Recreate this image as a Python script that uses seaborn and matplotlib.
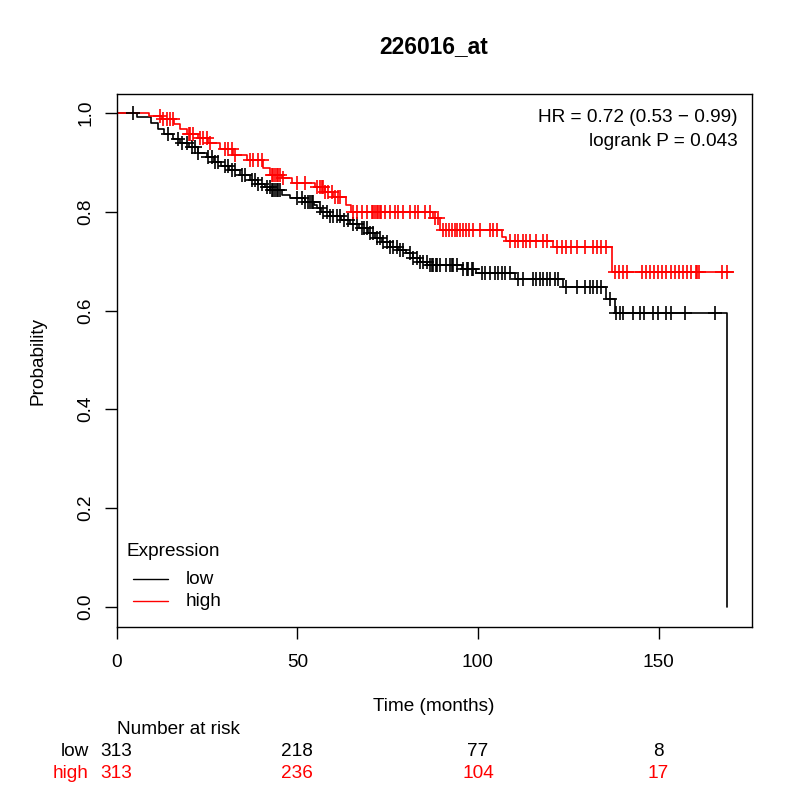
import numpy as np
import pandas as pd
import matplotlib
matplotlib.use("Agg")
import matplotlib.pyplot as plt
from matplotlib.lines import Line2D
import matplotlib.transforms as mtransforms
import seaborn as sns

# ---------------- data ----------------
title = "226016_at"
groups = ["low", "high"]
group_colors = ["black", "red"]

low_t = [0, 5.7, 9.5, 11.5, 13, 15.5, 17.5, 20, 22.5, 25, 27, 29, 31, 34, 37, 39, 41, 42.5,
         45.7, 48, 52, 54.6, 55.5, 56.5, 59, 62, 64.5, 67, 69.5, 71.5, 73.5, 75.6, 78, 80,
         82, 84, 86, 95.5, 99.5, 110.2, 123.6, 135.6, 137.9, 169]
low_s = [1.0, 0.992, 0.980, 0.968, 0.958, 0.948, 0.940, 0.932, 0.919, 0.910, 0.901, 0.893,
         0.885, 0.874, 0.864, 0.857, 0.851, 0.844, 0.834, 0.827, 0.820, 0.814, 0.807, 0.800,
         0.792, 0.783, 0.775, 0.767, 0.757, 0.747, 0.738, 0.729, 0.722, 0.716, 0.707, 0.699,
         0.692, 0.684, 0.675, 0.663, 0.648, 0.623, 0.595, 0.0]
low_cens = [4.5, 14.3, 17.1, 18.0, 19.4, 20.8, 21.7, 22.6, 25.4, 26.3, 27.2, 28.1, 30.0, 30.9,
            31.8, 32.7, 34.6, 35.5, 37.4, 38.3, 39.2, 40.1, 41.5, 42.4, 42.9, 43.3, 43.8, 44.3,
            44.7, 45.2, 49.8, 51.2, 52.1, 53.0, 53.5, 54.0, 54.4, 56.3, 57.2, 58.1, 59.0, 60.0,
            60.9, 61.8, 63.0, 64.0, 65.5, 66.4, 67.8, 68.5, 69.2, 70.1, 71.0, 72.0, 72.9, 73.8,
            74.7, 75.6, 76.6, 77.5, 78.4, 79.3, 81.2, 82.1, 83.0, 84.0, 84.9, 85.8, 86.7, 87.2,
            87.6, 88.4, 88.6, 89.5, 91.3, 92.2, 92.7, 93.2, 94.1, 95.9, 96.9, 97.3, 98.3, 98.7,
            101.0, 101.9, 103.3, 104.7, 105.6, 106.6, 107.5, 108.9, 111.2, 112.5, 115.3, 116.2,
            117.2, 118.1, 119.0, 119.9, 121.3, 122.2, 124.5, 127.3, 129.6, 131.0, 132.0, 133.0,
            134.2, 136.7, 138.2, 139.3, 140.2, 142.8, 144.8, 145.9, 148.5, 149.9, 152.2, 153.4,
            157.3, 165.6]

high_t = [0, 9, 12.5, 15.8, 17.5, 19.4, 22.5, 25.3, 28.6, 32.3, 36, 40.5, 42.5, 45.9, 48.5,
          55, 57.6, 59.8, 63.5, 64.8, 87.5, 89.5, 106.6, 107.8, 120.8, 137.0, 170.6]
high_s = [1.0, 0.994, 0.987, 0.978, 0.968, 0.958, 0.949, 0.939, 0.928, 0.915, 0.905, 0.888,
          0.874, 0.868, 0.858, 0.851, 0.841, 0.830, 0.814, 0.800, 0.787, 0.763, 0.749, 0.741,
          0.729, 0.679, 0.679]
high_cens = [12.0, 12.9, 13.8, 14.8, 15.7, 19.9, 20.3, 21.2, 23.1, 24.0, 24.9, 25.8, 30.0, 30.9,
             31.8, 32.7, 36.9, 37.8, 39.2, 40.1, 42.9, 43.3, 43.8, 44.3, 44.7, 45.3, 46.1, 49.8,
             52.1, 55.4, 56.3, 56.7, 57.2, 57.7, 58.6, 59.5, 60.4, 61.3, 61.8, 65.5, 66.4, 67.8,
             69.2, 70.6, 71.0, 71.5, 72.0, 72.4, 72.9, 73.3, 74.3, 75.6, 77.1, 78.0, 79.3, 81.2,
             82.6, 83.5, 85.3, 86.7, 88.1, 89.0, 90.4, 91.3, 92.0, 92.7, 93.6, 94.3, 95.0, 95.8,
             96.7, 97.6, 98.7, 100.5, 103.3, 104.2, 105.2, 108.9, 110.2, 111.2, 112.5, 113.4,
             114.4, 116.2, 118.1, 119.0, 121.8, 123.2, 124.5, 125.9, 127.3, 129.6, 131.9, 133.0,
             134.2, 135.4, 138.0, 139.2, 140.3, 141.4, 145.3, 146.5, 147.6, 148.8, 149.9, 151.1,
             152.2, 153.4, 154.5, 155.7, 156.8, 158.0, 159.1, 160.3, 160.6, 161.2, 167.5, 168.9]

risk_times = [0, 50, 100, 150]
risk_low = [313, 218, 77, 8]
risk_high = [313, 236, 104, 17]

stats_lines = ["HR = 0.72 (0.53 \u2212 0.99)", "logrank P = 0.043"]
x_ticks = [0, 50, 100, 150]
y_ticks = [0.0, 0.2, 0.4, 0.6, 0.8, 1.0]

# ---------------- style ----------------
sns.set_style("ticks")
plt.rcParams["font.family"] = ["Liberation Sans", "DejaVu Sans"]
plt.rcParams["text.color"] = "black"
plt.rcParams["axes.labelcolor"] = "black"
plt.rcParams["xtick.color"] = "black"
plt.rcParams["ytick.color"] = "black"
FS = 13.7
W = H = 800
DPI = 100
LW = 1.2

fig = plt.figure(figsize=(W / DPI, H / DPI), dpi=DPI)
ax = fig.add_axes([116.7 / W, 1 - 626.7 / H, (751.7 - 116.7) / W, (626.7 - 94.3) / H])


def curve_frame(t, s, name):
    return pd.DataFrame({"time": t, "surv": s, "group": name})


def censor_frame(t, s, cens, name):
    t = np.asarray(t)
    s = np.asarray(s)
    idx = np.searchsorted(t, cens, side="right") - 1
    return pd.DataFrame({"time": cens, "surv": s[idx], "group": name})


curves = pd.concat([curve_frame(low_t, low_s, "low"), curve_frame(high_t, high_s, "high")])
cens = pd.concat([censor_frame(low_t, low_s, low_cens, "low"),
                  censor_frame(high_t, high_s, high_cens, "high")])
palette = dict(zip(groups, group_colors))

for g in groups:
    sns.lineplot(data=curves[curves.group == g], x="time", y="surv", color=palette[g],
                 drawstyle="steps-post", estimator=None, linewidth=LW, ax=ax, legend=False)
for g in groups:
    sns.scatterplot(data=cens[cens.group == g], x="time", y="surv", color=palette[g],
                    marker="+", s=95, linewidth=LW, ax=ax, legend=False, zorder=3)

ax.set_xlim(0, 175.8)
ax.set_ylim(-0.0405, 1.038)
ax.set_xticks(x_ticks)
ax.set_xticklabels([str(v) for v in x_ticks], fontsize=FS)
ax.set_yticks(y_ticks)
ax.set_yticklabels([f"{v:.1f}" for v in y_ticks], fontsize=FS, rotation=90, va="center")
ax.tick_params(axis="x", length=8.3, width=1, pad=11, colors="black")
ax.tick_params(axis="y", length=8.3, width=1, pad=8, colors="black")
for sp in ax.spines.values():
    sp.set_visible(True)
    sp.set_color("black")
    sp.set_linewidth(1.0)
ax.set_xlabel("")
ax.set_ylabel("")

# axis labels and title (figure pixel positions)
fig.text(434 / W, 1 - 706.7 / H, "Time (months)", ha="center", va="center", fontsize=FS)
fig.text(38 / W, 1 - 360.5 / H, "Probability", ha="center", va="center", fontsize=FS, rotation=90)
fig.text(434 / W, 1 - 47 / H, title, ha="center", va="center", fontsize=16.4, fontweight="bold")

# HR / logrank text
fig.text(738 / W, 1 - 118 / H, stats_lines[0], ha="right", va="center", fontsize=FS)
fig.text(738 / W, 1 - 141.7 / H, stats_lines[1], ha="right", va="center", fontsize=FS)

# legend
fig.text(126.7 / W, 1 - 552 / H, "Expression", ha="left", va="center", fontsize=FS)
for i, g in enumerate(groups):
    yy = 1 - (579 + 22 * i) / H
    fig.add_artist(Line2D([133 / W, 168 / W], [yy, yy], color=palette[g], lw=1.0,
                          transform=fig.transFigure))
    fig.text(185.7 / W, yy, g, ha="left", va="center", fontsize=FS)

# number at risk table
trans = mtransforms.blended_transform_factory(ax.transData, fig.transFigure)
fig.text(116.7 / W, 1 - 730 / H, "Number at risk", ha="left", va="center", fontsize=FS)
for row, (g, vals) in enumerate(zip(groups, [risk_low, risk_high])):
    yy = 1 - (752 + 22 * row) / H
    fig.text(89 / W, yy, g, ha="right", va="center", fontsize=FS, color=palette[g])
    for tt, v in zip(risk_times, vals):
        ax.text(tt, yy, str(v), ha="center", va="center", fontsize=FS, color=palette[g],
                transform=trans, clip_on=False)

fig.savefig("out.png", dpi=DPI, facecolor="white")
